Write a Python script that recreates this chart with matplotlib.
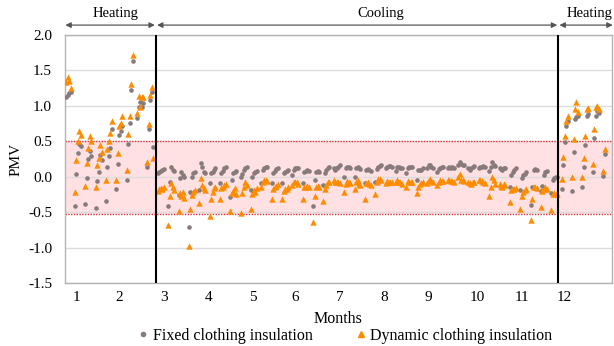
import numpy as np
import pandas as pd
import matplotlib
matplotlib.use("Agg")
import matplotlib.pyplot as plt
import matplotlib.transforms as mtransforms
from matplotlib.lines import Line2D

# ── Data (PMV per working day, 2019) ─────────────────────────────────────────
# heating season 1: Jan 1 - Mar 1 (weekdays)
fixed_heat1 = [
    1.13, 1.15, 1.18, 1.19,
    -0.41, 0.04, 0.33, 0.46, 0.43,
    -0.38, -0.02, 0.25, 0.36, 0.29,
    -0.44, -0.06, 0.07, 0.30, 0.24,
    -0.34, 0.14, 0.29, 0.41, 0.67,
    -0.18, 0.18, 0.59, 0.64, 0.72,
    -0.05, 0.46, 0.76, 1.22, 1.64,
    0.83, 0.98, 1.06, 0.99, 1.04,
    0.14, 0.67, 1.08, 1.20, 0.42,
]
dynamic_heat1 = [
    1.33, 1.41, 1.35, 1.25,
    -0.22, 0.24, 0.50, 0.64, 0.59,
    -0.13, 0.20, 0.41, 0.57, 0.50,
    -0.15, 0.17, 0.26, 0.45, 0.35,
    -0.05, 0.39, 0.50, 0.62, 0.79,
    -0.04, 0.33, 0.71, 0.76, 0.85,
    0.09, 0.60, 0.85, 1.31, 1.72,
    0.90, 1.14, 0.99, 1.12, 1.12,
    0.21, 0.74, 1.15, 1.26, 0.27,
]

# cooling season: Mar 4 - Nov 29 (weekdays)
fixed_cool = [
    0.05, 0.07, 0.08, 0.10, 0.11,
    -0.42, -0.07, 0.14, 0.10, 0.08,
    -0.26, -0.02, 0.06, 0.03, 0.00,
    -0.71, -0.21, 0.00, 0.05, 0.07,
    -0.19, 0.19, 0.14, 0.07, 0.05,
    -0.09, 0.05, 0.07, 0.09, 0.12,
    -0.09, 0.05, 0.08, 0.12, 0.14,
    -0.28, -0.04, 0.05, 0.07, 0.08,
    -0.01, 0.04, 0.09, 0.12, 0.14,
    -0.19, 0.00, 0.05, 0.07, 0.08,
    -0.09, 0.10, 0.13, 0.14, 0.14,
    -0.09, 0.05, 0.08, 0.11, 0.12,
    -0.09, 0.05, 0.07, 0.08, 0.09,
    0.03, 0.09, 0.12, 0.13, 0.12,
    -0.09, 0.07, 0.08, 0.09, 0.08,
    -0.42, -0.04, 0.07, 0.08, 0.07,
    -0.12, 0.05, 0.09, 0.13, 0.14,
    0.12, 0.09, 0.12, 0.14, 0.17,
    -0.01, 0.12, 0.14, 0.14, 0.13,
    -0.01, 0.12, 0.14, 0.12, 0.11,
    -0.09, 0.10, 0.11, 0.09, 0.08,
    -0.07, 0.11, 0.14, 0.15, 0.16,
    0.12, 0.14, 0.15, 0.15, 0.14,
    0.08, 0.14, 0.14, 0.13, 0.13,
    0.05, 0.13, 0.14, 0.14, 0.14,
    -0.04, 0.09, 0.10, 0.10, 0.12,
    0.12, 0.16, 0.17, 0.14, 0.13,
    0.07, 0.11, 0.13, 0.14, 0.14,
    0.13, 0.14, 0.13, 0.14, 0.13,
    0.16, 0.21, 0.18, 0.17, 0.16,
    0.13, 0.09, 0.12, 0.14, 0.15,
    0.12, 0.14, 0.14, 0.15, 0.14,
    0.08, 0.14, 0.21, 0.17, 0.15,
    0.13, 0.11, 0.10, 0.12, 0.12,
    -0.15, 0.02, 0.07, 0.10, 0.12,
    -0.19, -0.02, 0.02, 0.04, 0.06,
    -0.40, -0.14, 0.09, 0.11, 0.09,
    -0.20, -0.13, 0.02, 0.06, 0.08,
    -0.23, -0.04, -0.02, -0.01, -0.01,
]
dynamic_cool = [
    -0.20, -0.17, -0.16, -0.18, -0.15,
    -0.68, -0.27, -0.09, -0.15, -0.19,
    -0.49, -0.23, -0.27, -0.21, -0.30,
    -0.98, -0.45, -0.26, -0.21, -0.19,
    -0.37, -0.02, -0.12, -0.16, -0.19,
    -0.56, -0.31, -0.21, -0.16, -0.14,
    -0.31, -0.16, -0.14, -0.12, -0.10,
    -0.49, -0.23, -0.20, -0.16, -0.24,
    -0.51, -0.23, -0.14, -0.07, -0.12,
    -0.45, -0.24, -0.19, -0.21, -0.16,
    -0.15, -0.07, -0.04, -0.05, -0.06,
    -0.31, -0.17, -0.14, -0.13, -0.10,
    -0.32, -0.20, -0.18, -0.17, -0.14,
    -0.12, -0.08, -0.07, -0.08, -0.10,
    -0.32, -0.15, -0.14, -0.13, -0.14,
    -0.64, -0.27, -0.14, -0.13, -0.14,
    -0.34, -0.17, -0.12, -0.08, -0.07,
    -0.04, -0.07, -0.08, -0.07, -0.09,
    -0.21, -0.10, -0.06, -0.08, -0.09,
    -0.18, -0.08, -0.05, -0.10, -0.12,
    -0.31, -0.09, -0.07, -0.10, -0.12,
    -0.25, -0.07, -0.03, -0.03, -0.05,
    -0.09, -0.06, -0.07, -0.07, -0.08,
    -0.08, -0.05, -0.07, -0.07, -0.10,
    -0.15, -0.06, -0.07, -0.08, -0.07,
    -0.23, -0.14, -0.10, -0.09, -0.08,
    -0.09, -0.04, -0.03, -0.06, -0.07,
    -0.11, -0.07, -0.04, -0.06, -0.06,
    -0.04, -0.05, -0.06, -0.06, -0.07,
    -0.01, 0.04, -0.04, -0.05, -0.06,
    -0.07, -0.09, -0.10, -0.08, -0.07,
    -0.04, -0.05, -0.06, -0.07, -0.09,
    -0.27, -0.14, -0.01, -0.05, -0.10,
    -0.10, -0.13, -0.15, -0.10, -0.12,
    -0.35, -0.19, -0.17, -0.18, -0.16,
    -0.45, -0.27, -0.21, -0.19, -0.17,
    -0.61, -0.31, -0.15, -0.14, -0.16,
    -0.43, -0.20, -0.18, -0.15, -0.17,
    -0.47, -0.25, -0.23, -0.24, -0.25,
]

# heating season 2: Dec 2 - Dec 31 (weekdays)
fixed_heat2 = [
    -0.17, 0.17, 0.49, 0.72, 0.79,
    -0.20, 0.35, 0.82, 0.84, 0.86,
    -0.14, 0.14, 0.45, 0.85, 0.88,
    0.06, 0.55, 0.86, 0.93, 0.90,
    0.01, 0.32,
]
dynamic_heat2 = [
    -0.03, 0.28, 0.57, 0.78, 0.86,
    0.00, 0.53, 0.95, 1.05, 0.92,
    0.00, 0.27, 0.57, 0.95, 0.97,
    0.18, 0.67, 0.98, 1.00, 0.96,
    0.08, 0.39,
]

month_ticks = [8, 37, 67, 97, 127, 156, 186, 216, 246, 279, 309, 338]
month_labels = ["1", "2", "3", "4", "5", "6", "7", "8", "9", "10", "11", "12"]
season_bounds = [61.5, 333.6]
comfort_band = (-0.53, 0.5)

days = pd.bdate_range("2019-01-01", "2019-12-31").dayofyear.values
fixed = np.array(fixed_heat1 + fixed_cool + fixed_heat2)
dynamic = np.array(dynamic_heat1 + dynamic_cool + dynamic_heat2)

GREY = "#877a7a"
ORANGE = "#FF8C00"

plt.rcParams["font.family"] = ["Liberation Serif", "DejaVu Serif"]

fig = plt.figure(figsize=(6.14, 3.46), dpi=100)
ax = fig.add_axes([0.1052, 0.1821, 0.8915, 0.7167])

ax.axhspan(*comfort_band, color="#FFE1E4", zorder=0, lw=0)
for yv in comfort_band:
    ax.axhline(yv, color="#E5333F", ls=(0, (1, 1)), lw=1.0, zorder=1)

ax.scatter(days, fixed, s=11, marker="o", color=GREY, lw=0, zorder=3)
ax.scatter(days, dynamic, s=21, marker="^", color=ORANGE, lw=0, zorder=4)

for xb in season_bounds:
    ax.axvline(xb, color="black", lw=1.5, zorder=5)

ax.set_xlim(0, 370)
ax.set_ylim(-1.5, 2.0)
ax.set_yticks(np.arange(-1.5, 2.01, 0.5))
ax.set_yticklabels([f"{v:.1f}" for v in np.arange(-1.5, 2.01, 0.5)], fontsize=11)
ax.set_xticks(month_ticks)
ax.set_xticklabels(month_labels, fontsize=11)
ax.tick_params(axis="both", length=0)
ax.tick_params(axis="y", pad=9)
ax.tick_params(axis="x", pad=6)
ax.grid(axis="y", color="#dcdcdc", lw=1.0, zorder=0)
ax.set_axisbelow(True)
for sp in ax.spines.values():
    sp.set_color("#b4b4b4")
    sp.set_linewidth(1.0)

ax.set_ylabel("PMV", fontsize=11, labelpad=4)
ax.set_xlabel("Months", fontsize=11.5, labelpad=5)

# season arrows above the plot
trans = mtransforms.blended_transform_factory(ax.transData, ax.transAxes)
seasons = [("Heating", 0.5, 61.0, 34.5), ("Cooling", 62.5, 333.0, 214),
           ("Heating", 334.5, 370.5, 355)]
for name, x1, x2, xt in seasons:
    ax.annotate("", xy=(x2, 1.04), xytext=(x1, 1.04), xycoords=trans,
                textcoords=trans, annotation_clip=False,
                arrowprops=dict(arrowstyle="<|-|>", color="#555555", lw=0.9,
                                shrinkA=0, shrinkB=0, mutation_scale=8))
    ax.text(xt, 1.085, name, transform=trans, ha="center", va="center",
            fontsize=10.5, clip_on=False)

handles = [
    Line2D([], [], marker="o", ls="", color=GREY, markersize=3),
    Line2D([], [], marker="^", ls="", color=ORANGE, markersize=4.5),
]
fig.legend(handles, ["Fixed clothing insulation", "Dynamic clothing insulation"],
           loc="center", bbox_to_anchor=(0.56, 0.03), ncol=2, frameon=False,
           fontsize=11.5, handletextpad=0.1, columnspacing=2.5, handlelength=1.0)

fig.savefig("out.png", dpi=100)
